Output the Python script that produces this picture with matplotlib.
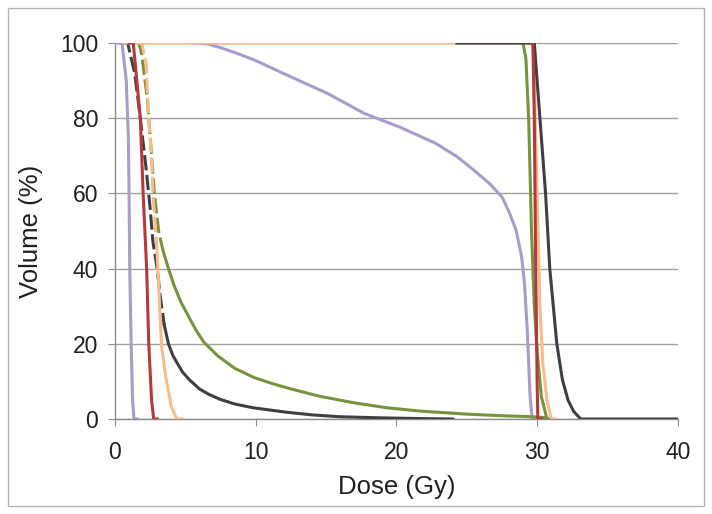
import matplotlib
matplotlib.use("Agg")
import matplotlib.pyplot as plt
from matplotlib.patches import Rectangle

plt.rcParams['font.family'] = ['Liberation Sans', 'DejaVu Sans']

# low-dose structures (upper part drawn dashed)
purple_lo_x = [0, 0.5, 0.8, 0.95, 1.0, 1.05, 1.15, 1.25, 1.35, 1.6]
purple_lo_y = [100, 100, 90, 75, 60, 40, 20, 5, 0, 0]

red_lo_x = [1.0, 1.3, 1.8, 2.0, 2.25, 2.4, 2.6, 2.75, 3.0]
red_lo_y = [100, 100, 80, 60, 40, 20, 5, 0, 0]

gray_lo_x = [0.5, 0.9, 1.4, 1.8, 2.2, 2.5, 2.7, 3.0, 3.2, 3.5, 3.8, 4.1, 4.4, 4.8,
             5.3, 6.0, 6.7, 7.5, 8.5, 9.8, 12.2, 14.0, 16.0, 19.0, 22.0, 24.0]
gray_lo_y = [100, 100, 92, 80, 67, 56, 47, 40, 33, 25, 20, 17, 15, 12.5,
             10.4, 8, 6.5, 5.2, 4.0, 3.0, 1.8, 1.1, 0.6, 0.3, 0.1, 0]

orange_lo_x = [1.6, 1.9, 2.2, 2.4, 2.6, 2.7, 2.95, 3.1, 3.3, 3.5, 3.67, 4.0, 4.4, 4.8]
orange_lo_y = [100, 100, 95, 80, 69, 60, 47, 36, 20, 14, 10, 3.3, 0, 0]

green_lo_x = [1.5, 1.7, 1.9, 2.3, 2.6, 2.8, 3.1, 3.4, 3.8, 4.2, 4.7, 5.2, 5.7, 6.3,
              7.3, 8.5, 9.9, 11.2, 12.5, 14.6, 17.0, 19.3, 21.7, 25.0, 27.3, 29.7,
              30.5, 30.8]
green_lo_y = [100, 100, 97, 85, 70, 60, 50, 45, 40, 35.5, 31, 27.5, 24, 20.5,
              16.8, 13.5, 11, 9.4, 8.0, 6.0, 4.3, 3.0, 2.1, 1.3, 0.9, 0.6,
              0.4, 0]

# high-dose structures
purple_hi_x = [5.5, 6.5, 7.3, 8.5, 9.9, 12.5, 15.1, 17.7, 20.2, 22.8, 24.3, 25.4,
               26.6, 27.5, 28.05, 28.5, 28.9, 29.1, 29.3, 29.5, 29.65, 30.0]
purple_hi_y = [100, 99.8, 99, 97.5, 95.5, 91, 86.6, 81.3, 77.7, 73.3, 69.8, 66.5,
               62.7, 59.1, 54.7, 50.3, 43.2, 36.1, 23.7, 6, 0, 0]

green_hi_x = [28.8, 29.0, 29.2, 29.4, 29.6, 29.8, 30.0, 30.3, 30.7, 31.0]
green_hi_y = [100, 100, 96, 80, 50, 30, 18, 6, 0, 0]

orange_hi_x = [0, 29.7, 29.8, 30.0, 30.2, 30.4, 30.7, 31.0, 31.3]
orange_hi_y = [100, 100, 90, 60, 30, 15, 5, 0, 0]

red_hi_x = [29.5, 29.7, 29.8, 29.9, 30.0, 30.05, 30.3]
red_hi_y = [100, 100, 80, 40, 10, 0, 0]

gray_hi_x = [24.3, 29.8, 30.0, 30.2, 30.6, 30.9, 31.4, 31.8, 32.2, 32.6, 33.1, 40]
gray_hi_y = [100, 100, 90, 80, 60, 40, 20, 10.4, 5, 2, 0, 0]

c_purple = '#A99BCB'
c_red = '#B5393A'
c_orange = '#F8BB8C'
c_gray = '#3F3F3F'
c_green = '#77933C'

fig = plt.figure(figsize=(7.12, 5.14), dpi=100)
ax = fig.add_axes([0.1615, 0.1848, 0.7905, 0.7315])

fig.patches.append(Rectangle((8 / 712, 8 / 514), 696 / 712, 498 / 514,
                             transform=fig.transFigure, fill=False,
                             edgecolor='#B4B4B4', lw=1.0))

lw = 2.2


def split_plot(x, y, ycut, color, z):
    # dashed above ycut, solid below
    xa, ya, xb, yb = [], [], [], []
    for xi, yi in zip(x, y):
        if yi >= ycut:
            xa.append(xi); ya.append(yi)
        if yi <= ycut:
            xb.append(xi); yb.append(yi)
    if xb and xa and xb[0] != xa[-1]:
        xb.insert(0, xa[-1]); yb.insert(0, ya[-1])
    ax.plot(xa, ya, color=color, lw=lw, ls=(0, (5, 1.5)), zorder=z)
    ax.plot(xb, yb, color=color, lw=lw, zorder=z)


ax.plot(purple_hi_x, purple_hi_y, color=c_purple, lw=lw, zorder=3)
ax.plot(green_hi_x, green_hi_y, color=c_green, lw=lw, zorder=3)
ax.plot(orange_hi_x, orange_hi_y, color=c_orange, lw=lw, zorder=4)
ax.plot(gray_hi_x, gray_hi_y, color=c_gray, lw=lw, zorder=4.5)
ax.plot(red_hi_x, red_hi_y, color=c_red, lw=lw, zorder=5)

split_plot(green_lo_x, green_lo_y, 45, c_green, 3)
split_plot(gray_lo_x, gray_lo_y, 22, c_gray, 3.5)
split_plot(orange_lo_x, orange_lo_y, 37, c_orange, 4)
ax.plot(red_lo_x, red_lo_y, color=c_red, lw=lw, zorder=5)
ax.plot(purple_lo_x, purple_lo_y, color=c_purple, lw=lw, zorder=5)

ax.set_xlim(0, 40)
ax.set_ylim(0, 100)
ax.set_xticks([0, 10, 20, 30, 40])
ax.set_yticks([0, 20, 40, 60, 80, 100])
ax.yaxis.grid(True, color='#A0A0A0', lw=1.0)
ax.set_axisbelow(True)
for s in ['top', 'right']:
    ax.spines[s].set_visible(False)
for s in ['left', 'bottom']:
    ax.spines[s].set_color('#8C8C8C')
    ax.spines[s].set_linewidth(1.0)
ax.tick_params(axis='both', direction='out', length=5, color='#8C8C8C',
               labelsize=16.5, labelcolor='#202020')
ax.tick_params(axis='x', pad=11)
ax.tick_params(axis='y', pad=7)
ax.set_xlabel('Dose (Gy)', fontsize=18.5, color='#202020', labelpad=8)
ax.set_ylabel('Volume (%)', fontsize=18.5, color='#202020', labelpad=12)

fig.savefig('out.png', dpi=100)
